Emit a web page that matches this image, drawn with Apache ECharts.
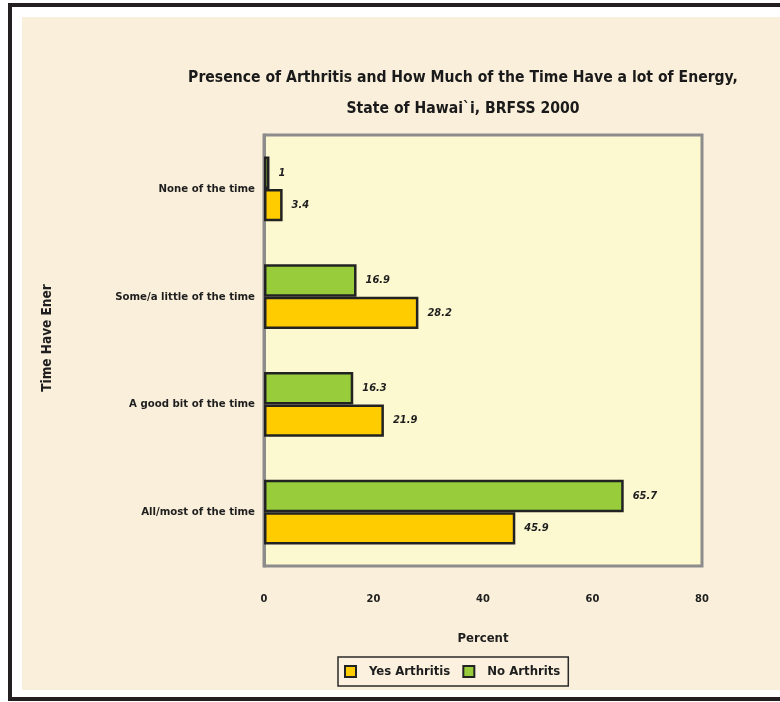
<!DOCTYPE html>
<html><head><meta charset="utf-8">
<script src="https://cdn.jsdelivr.net/npm/echarts@6/dist/echarts.min.js"></script>
<style>html,body{margin:0;padding:0;background:#fff}#c{width:780px;height:702px}</style>
</head><body><div id="c"></div>
<script>
const categories = ['All/most of the time','A good bit of the time','Some/a little of the time','None of the time'];
const yesArthritis = [45.9, 21.9, 28.2, 3.4];
const noArthritis = [65.7, 16.3, 16.9, 1];
const seriesNames = ['Yes Arthritis', 'No Arthrits'];
const xTicks = {min: 0, max: 80, interval: 20};
const yAxisTitle = 'Time Have Ener';

const chart = echarts.init(document.getElementById('c'), null, {renderer: 'canvas'});
const fontFam = '"DejaVu Sans Condensed", "DejaVu Sans", sans-serif';
const lblStyle = {fontFamily: fontFam, fontWeight: 'bold', fontSize: 11.3, color: '#1e1e1e'};
const dataLabel = {show: true, position: 'right', distance: 9, formatter: p => String(p.value),
  fontFamily: fontFam, fontWeight: 'bold', fontStyle: 'italic', fontSize: 11, color: '#1e1e1e'};
chart.setOption({
  backgroundColor: '#ffffff',
  animation: false,
  graphic: [
    {type: 'rect', shape: {x: 22, y: 17, width: 758, height: 673}, style: {fill: '#faefdb'}, z: -10},
    {type: 'rect', shape: {x: 8, y: 3, width: 772, height: 4}, style: {fill: '#231f20'}, z: -9},
    {type: 'rect', shape: {x: 8, y: 3, width: 4, height: 698}, style: {fill: '#231f20'}, z: -9},
    {type: 'rect', shape: {x: 8, y: 697, width: 772, height: 4}, style: {fill: '#231f20'}, z: -9},
    {type: 'text', x: 47, y: 338, rotation: Math.PI / 2,
     style: {text: yAxisTitle, fontFamily: fontFam, fontWeight: 'bold', fontSize: 13.5, fill: '#1e1e1e',
             align: 'center', verticalAlign: 'middle'}}
  ],
  title: {
    text: 'Presence of Arthritis and How Much of the Time Have a lot of Energy,\nState of Hawai`i, BRFSS 2000',
    left: 458, top: 57, textAlign: 'center',
    textStyle: {fontFamily: fontFam, fontWeight: 'bold', fontSize: 15.6, lineHeight: 31, color: '#1a1a1a'}
  },
  legend: {
    data: seriesNames,
    left: 338, top: 657, width: 240,
    padding: [8, 8, 8, 6],
    itemWidth: 11, itemHeight: 11, itemGap: 12,
    icon: 'rect',
    borderColor: '#2a2a2a', borderWidth: 1.5,
    backgroundColor: '#fbf1de',
    textStyle: {fontFamily: fontFam, fontWeight: 'bold', fontSize: 13, color: '#1e1e1e', padding: [0, 0, 0, 8]}
  },
  grid: {
    left: 264, right: 78, top: 135, bottom: 136,
    show: true, backgroundColor: '#fcf8d0', borderColor: '#8c8c8c', borderWidth: 3
  },
  xAxis: {
    type: 'value', min: xTicks.min, max: xTicks.max, interval: xTicks.interval,
    axisLine: {show: false}, axisTick: {show: false}, splitLine: {show: false},
    axisLabel: Object.assign({margin: 28}, lblStyle, {fontSize: 11}),
    name: 'Percent', nameLocation: 'middle', nameGap: 66,
    nameTextStyle: Object.assign({}, lblStyle, {fontSize: 13})
  },
  yAxis: {
    type: 'category', data: categories,
    axisLine: {show: true, lineStyle: {color: '#8c8c8c', width: 3}}, axisTick: {show: false},
    axisLabel: Object.assign({margin: 9}, lblStyle)
  },
  series: [
    {name: seriesNames[1], type: 'bar', data: noArthritis, barGap: '0%', barCategoryGap: '40%',
     itemStyle: {color: '#99cc3a', borderColor: '#222222', borderWidth: 2.5}, label: dataLabel},
    {name: seriesNames[0], type: 'bar', data: yesArthritis, barGap: '0%', barCategoryGap: '40%',
     itemStyle: {color: '#ffcc00', borderColor: '#222222', borderWidth: 2.5}, label: dataLabel}
  ]
});
</script></body></html>
